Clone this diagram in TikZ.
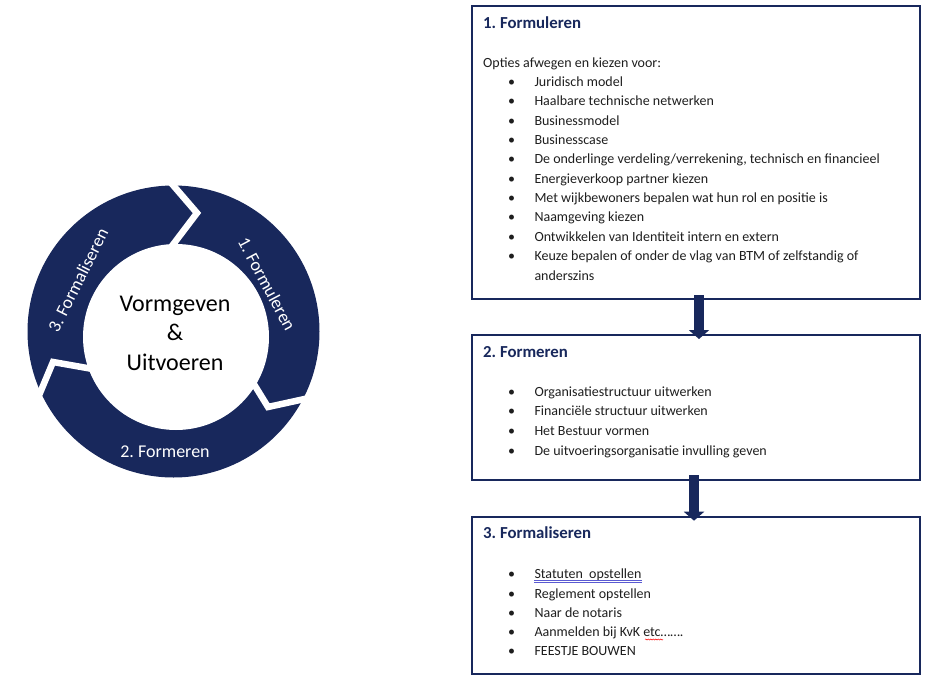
\documentclass[tikz,border=0pt]{standalone}
\usepackage{fontspec}
\setmainfont{Carlito}
\frenchspacing
\usetikzlibrary{arrows.meta,decorations.pathmorphing}
\definecolor{navy}{RGB}{24,40,92}
\definecolor{bodytext}{RGB}{30,30,30}
\definecolor{gramblue}{RGB}{90,90,210}
\newcommand\myitem[3]{%
  \node[bul] (#1b) at (511.7,#2) {•};
  \node[item] (#1) at (534.3,#2) {#3};}
\begin{document}
\begin{tikzpicture}[x=1pt,y=1pt,
  box/.style={draw=navy, line width=2pt, anchor=north west, inner sep=0pt, minimum width=448pt},
  title/.style={anchor=base west, inner sep=0pt, font=\fontsize{16.8}{20}\selectfont\bfseries, text=navy},
  item/.style={anchor=base west, inner sep=0pt, font=\fontsize{14}{17}\selectfont, text=bodytext},
  bul/.style={anchor=base, inner sep=0pt, font=\fontsize{14}{17}\selectfont, text=bodytext},
  ringtext/.style={text=white, inner sep=0pt, font=\fontsize{18}{21}\selectfont},
  blockarrow/.style={draw=navy, line width=10pt, -{Triangle[width=20pt,length=9pt]}},
  gap/.style={draw=white, line width=6.5pt, miter limit=20, line join=miter}
]
\useasboundingbox (0,0) rectangle (927,-680);

% ---- cycle ----
\fill[navy] (173.5,-331.5) circle (146);
\fill[white] (176,-337) circle (93);
\draw[gap] (166,-177) -- (197,-213) -- (168.4,-250.7);
\draw[gap] (247.2,-373.2) -- (268,-407) -- (309.6,-397.9);
\draw[gap] (36.1,-402.3) -- (53,-362) -- (97.2,-369.8);
\node[ringtext, rotate=-62] (r1) at (267,-284) {1. Formuleren};
\node[ringtext] (r2) at (165,-452) {2. Formeren};
\node[ringtext, rotate=63.4] (r3) at (78,-280) {3. Formaliseren};
\node[align=center, inner sep=0pt, font=\fontsize{24}{29.5}\selectfont, text=black] (c) at (175,-333) {Vormgeven\\\&\\Uitvoeren};

% ---- boxes ----
\node[box, minimum height=293pt] (b1) at (471,-5) {};
\node[box, minimum height=145pt] (b2) at (471,-334) {};
\node[box, minimum height=157pt] (b3) at (471,-516) {};

\draw[blockarrow] ([xshift=3pt,yshift=5pt]b1.south) -- ([xshift=3pt,yshift=-5pt]b2.north);
\draw[blockarrow] ([xshift=-2pt,yshift=6pt]b2.south) -- ([xshift=-2pt,yshift=-4.7pt]b3.north);

% box 1
\node[title] (t1) at (483,-28.3) {1. Formuleren};
\node[item] (o1) at (483,-67) {Opties afwegen en kiezen voor:};
\myitem{a1}{-86.5}{Juridisch model}
\myitem{a2}{-105.85}{Haalbare technische netwerken}
\myitem{a3}{-125.2}{Businessmodel}
\myitem{a4}{-144.55}{Businesscase}
\myitem{a5}{-163.9}{De onderlinge verdeling/verrekening, technisch en financieel}
\myitem{a6}{-183.25}{Energieverkoop partner kiezen}
\myitem{a7}{-202.6}{Met wijkbewoners bepalen wat hun rol en positie is}
\myitem{a8}{-221.95}{Naamgeving kiezen}
\myitem{a9}{-241.3}{Ontwikkelen van Identiteit intern en extern}
\myitem{a10}{-260.65}{Keuze bepalen of onder de vlag van BTM of zelfstandig of}
\node[item] (a10x) at (534.3,-280) {anderszins};

% box 2
\node[title] (t2) at (483,-357.3) {2. Formeren};
\myitem{f1}{-396}{Organisatiestructuur uitwerken}
\myitem{f2}{-415.7}{Financiële structuur uitwerken}
\myitem{f3}{-435.3}{Het Bestuur vormen}
\myitem{f4}{-455}{De uitvoeringsorganisatie invulling geven}

% box 3
\node[title] (t3) at (483,-538.7) {3. Formaliseren};
\myitem{s1}{-578}{Statuten\ \ opstellen}
\myitem{s2}{-598}{Reglement opstellen}
\myitem{s3}{-617}{Naar de notaris}
\myitem{s4}{-636.7}{Aanmelden bij KvK etc…….}
\myitem{s5}{-655.7}{FEESTJE BOUWEN}

\draw[gramblue, line width=0.4pt] ([yshift=-2.6pt]s1.base west) -- ([yshift=-2.6pt]s1.base east);
\draw[gramblue, line width=0.4pt] ([yshift=-3.8pt]s1.base west) -- ([yshift=-3.8pt]s1.base east);
\draw[red, line width=0.5pt, decorate, decoration={snake, amplitude=0.6pt, segment length=2.5pt}] (645,-639.5) -- (663,-639.5);
\end{tikzpicture}
\end{document}
